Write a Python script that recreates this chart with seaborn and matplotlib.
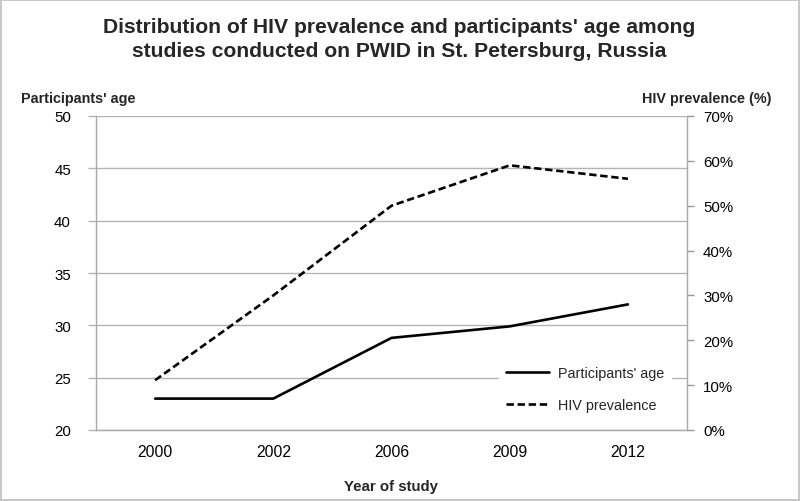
import matplotlib
matplotlib.use("Agg")
import matplotlib.pyplot as plt
import seaborn as sns
import pandas as pd
from matplotlib.ticker import FuncFormatter, FixedLocator

years = ["2000", "2002", "2006", "2009", "2012"]
age = [23.0, 23.0, 28.8, 29.9, 32.0]
hiv = [11.1, 30.0, 50.0, 59.0, 56.0]

sns.set_theme(style="white")
plt.rcParams['font.family'] = ['Liberation Sans', 'DejaVu Sans']

df = pd.DataFrame({"pos": range(len(years)), "year": years, "age": age, "hiv": hiv})

W, H = 800, 502
fig = plt.figure(figsize=(8, 5.02), dpi=100)
fig.patch.set_facecolor("white")
fig.patch.set_edgecolor("#c8c8c8")
fig.patch.set_linewidth(1.5)

L, R, T, B = 96, 687, 117, 431
ax = fig.add_axes([L / W, 1 - B / H, (R - L) / W, (B - T) / H])
ax2 = ax.twinx()

sns.lineplot(data=df, x="pos", y="age", ax=ax, color="black", linewidth=1.9,
             label="Participants' age", legend=False)
sns.lineplot(data=df, x="pos", y="hiv", ax=ax2, color="black", linewidth=1.9,
             linestyle=(0, (2.8, 1.4)), label="HIV prevalence", legend=False)

ax.set_xlim(-0.5, len(years) - 0.5)
ax.set_ylim(20, 50)
ax2.set_ylim(0, 70)

ax.set_yticks(range(20, 51, 5))
ax2.set_yticks(range(0, 71, 10))
ax2.yaxis.set_major_formatter(FuncFormatter(lambda v, p: f"{int(v)}%"))

ax.set_xticks(range(len(years)))
ax.set_xticklabels(years)
ax.xaxis.set_minor_locator(FixedLocator([i - 0.5 for i in range(len(years) + 1)]))
ax.tick_params(axis="x", which="major", length=0, pad=10, labelsize=11.3, colors="black")
ax.tick_params(axis="x", which="minor", length=5, width=1, color="#999999", direction="out")
ax.tick_params(axis="y", which="major", length=6, width=1, color="#b4b4b4", labelsize=10.8,
               labelcolor="black", left=True, pad=12)
ax2.tick_params(axis="y", which="major", length=5, width=1, color="#999999", labelsize=10.8,
                labelcolor="black", right=True, pad=6.5)

ax.grid(axis="y", color="#b4b4b4", linewidth=1)
ax.set_axisbelow(True)
ax.set_xlabel("")
ax.set_ylabel("")
ax2.set_ylabel("")

for a in (ax, ax2):
    a.spines["top"].set_visible(False)
    for s in ("left", "right", "bottom"):
        a.spines[s].set_color("#a8a8a8")
        a.spines[s].set_linewidth(1)
ax.spines["right"].set_visible(False)
ax2.spines["left"].set_visible(False)
ax2.spines["bottom"].set_visible(False)

h1, l1 = ax.get_legend_handles_labels()
h2, l2 = ax2.get_legend_handles_labels()
leg = ax2.legend(h1 + h2, l1 + l2, loc="center",
                 bbox_to_anchor=(585 / W, 1 - 390 / H), bbox_transform=fig.transFigure,
                 frameon=True, fontsize=10.4, handlelength=3.0, handletextpad=0.6,
                 labelspacing=1.25, borderpad=0.5, borderaxespad=0)
leg.get_frame().set_facecolor("white")
leg.get_frame().set_edgecolor("white")
leg.get_frame().set_alpha(1)
leg.get_frame().set_boxstyle("square", pad=0)

fig.text(399 / W, 1 - 33.3 / H, "Distribution of HIV prevalence and participants' age among",
         ha="center", va="baseline", fontsize=15.2, fontweight="bold")
fig.text(399 / W, 1 - 56.8 / H, "studies conducted on PWID in St. Petersburg, Russia",
         ha="center", va="baseline", fontsize=15.2, fontweight="bold")
fig.text(21 / W, 1 - 102.7 / H, "Participants' age", ha="left", va="baseline",
         fontsize=10.4, fontweight="bold")
fig.text(772 / W, 1 - 103.3 / H, "HIV prevalence (%)", ha="right", va="baseline",
         fontsize=10.4, fontweight="bold")
fig.text(391 / W, 1 - 491 / H, "Year of study", ha="center", va="baseline",
         fontsize=10.8, fontweight="bold")

fig.savefig("out.png", dpi=100, facecolor=fig.get_facecolor(), edgecolor=fig.get_edgecolor())
